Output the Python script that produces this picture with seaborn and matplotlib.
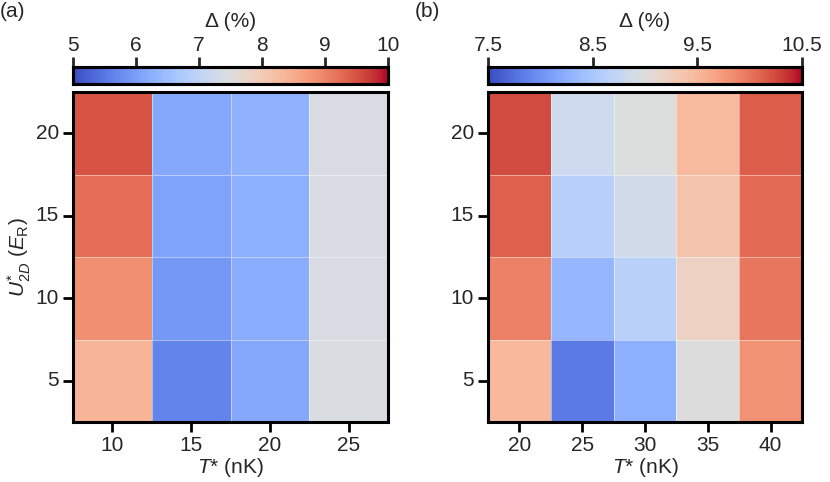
import numpy as np
import pandas as pd
import matplotlib
matplotlib.use("Agg")
import matplotlib.pyplot as plt
import seaborn as sns

sns.set_theme(style="ticks")
plt.rcParams["font.family"] = ["Liberation Sans", "DejaVu Sans"]
plt.rcParams.update({
    "mathtext.fontset": "custom",
    "mathtext.rm": "Liberation Sans",
    "mathtext.it": "Liberation Sans:italic",
    "font.size": 15,
})

# ===== DATA =====
u2d = [20, 15, 10, 5]  # rows top -> bottom

temp_a = [10, 15, 20, 25]
delta_a = [
    [9.49, 6.15, 6.30, 7.42],
    [9.22, 6.07, 6.25, 7.42],
    [8.87, 5.90, 6.20, 7.42],
    [8.38, 5.65, 6.15, 7.44],
]

temp_b = [20, 25, 30, 35, 40]
delta_b = [
    [10.24, 8.83, 8.99, 9.48, 10.14],
    [10.12, 8.62, 8.86, 9.38, 10.06],
    [9.92, 8.33, 8.63, 9.22, 9.99],
    [9.50, 7.82, 8.26, 9.00, 9.80],
]

df_a = pd.DataFrame(delta_a, index=u2d, columns=temp_a)
df_b = pd.DataFrame(delta_b, index=u2d, columns=temp_b)

# ===== FIGURE =====
fig = plt.figure(figsize=(8.3, 4.82), dpi=100)
W, H = 830, 482


def box(x0, y0, x1, y1):
    return [x0 / W, 1 - y1 / H, (x1 - x0) / W, (y1 - y0) / H]


panels = [
    (df_a, 5, 10, [5, 6, 7, 8, 9, 10], ["5", "6", "7", "8", "9", "10"], 73, 388, "(a)", 0),
    (df_b, 7.5, 10.5, [7.5, 8.5, 9.5, 10.5], ["7.5", "8.5", "9.5", "10.5"], 488, 802, "(b)", 415),
]

for df, vmin, vmax, cticks, clabels, x0, x1, tag, tx in panels:
    ax = fig.add_axes(box(x0, 92, x1, 422))
    cax = fig.add_axes(box(x0, 67, x1, 84))
    sns.heatmap(
        df, ax=ax, cbar_ax=cax, cmap="coolwarm", vmin=vmin, vmax=vmax,
        linewidths=0.6, linecolor=(1, 1, 1, 0.45),
        cbar_kws={"orientation": "horizontal"},
    )
    ax.set_yticklabels(df.index, rotation=0)
    ax.set_xticklabels(df.columns, rotation=0)
    ax.tick_params(axis="both", length=7, width=2, labelsize=15, color="black",
                   direction="out", pad=3)
    for s in ax.spines.values():
        s.set_visible(True)
        s.set_linewidth(2.2)
        s.set_color("black")
    ax.set_xlabel("$T$* (nK)", fontsize=15, labelpad=1)
    if tag == "(a)":
        ax.set_ylabel(r"$U^{*}_{2D}$ ($E_{\mathrm{R}}$)", fontsize=15, labelpad=2)
    else:
        ax.set_ylabel("")

    cax.xaxis.set_ticks_position("top")
    cax.xaxis.set_label_position("top")
    cax.set_xticks(cticks)
    cax.set_xticklabels(clabels)
    cax.tick_params(axis="x", length=7, width=2, labelsize=15, direction="out", pad=2)
    cax.set_xlabel("Δ (%)", fontsize=15, labelpad=6)
    for s in cax.spines.values():
        s.set_visible(True)
        s.set_linewidth(2.2)
        s.set_color("black")

    fig.text(tx / W, 1 - 2 / H, tag, fontsize=15, ha="left", va="top")

plt.savefig("out.png", dpi=100)
